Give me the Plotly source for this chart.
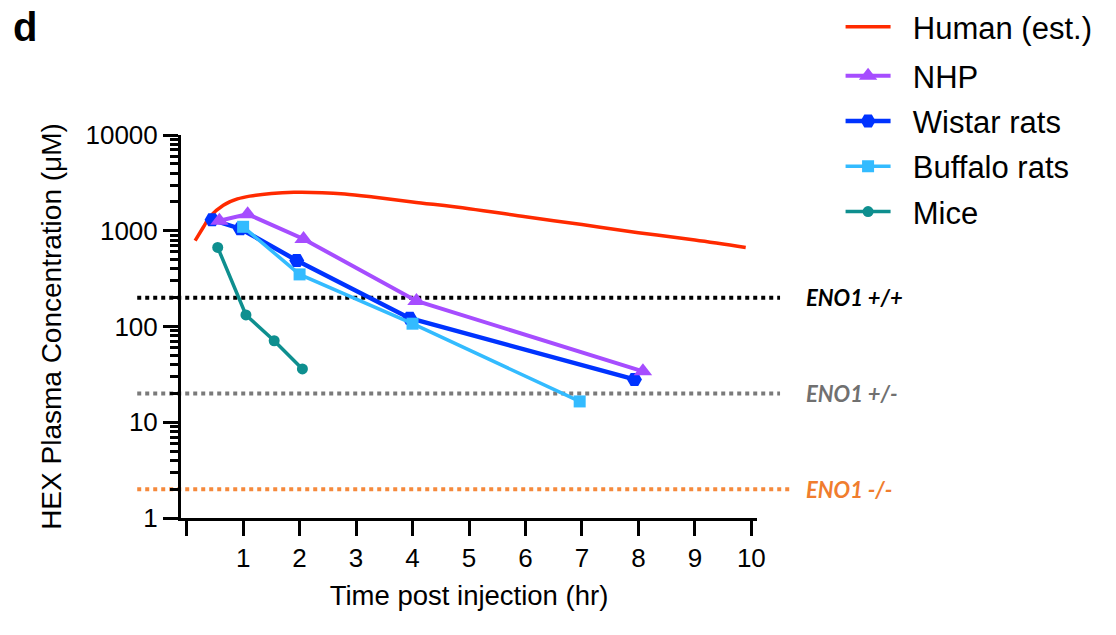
import plotly.graph_objects as go
import numpy as np

# ---- data ----
human_t = [0.15, 0.3, 0.41, 0.65, 0.9, 1.12, 1.5, 1.9, 2.4, 2.8, 3.3, 4.0, 5.0, 6.0, 7.0, 8.0, 9.0, 9.9]
human_c = [790, 1100, 1400, 1850, 2150, 2300, 2450, 2520, 2500, 2420, 2250, 2000, 1700, 1400, 1160, 955, 800, 670]

nhp_t = [0.58, 1.08, 2.07, 4.07, 8.08]
nhp_c = [1270, 1490, 820, 185, 34]

wistar_t = [0.45, 0.95, 1.95, 3.95, 7.93]
wistar_c = [1300, 1050, 490, 122, 28]

buffalo_t = [1.0, 2.0, 4.0, 6.96]
buffalo_c = [1100, 350, 107, 16.5]

mice_t = [0.55, 1.05, 1.55, 2.05]
mice_c = [670, 132, 71, 36]

series_names = ["Human (est.)", "NHP", "Wistar rats", "Buffalo rats", "Mice"]

threshold_vals = [200, 20, 2]
threshold_labels = ["<b><i>ENO1 +/+</i></b>", "<b><i>ENO1 +/-</i></b>", "<b><i>ENO1 -/-</i></b>"]
threshold_colors = ["#000000", "#707070", "#f07d2e"]
line_colors = ["#000000", "#7a7a7a", "#f5893c"]

x_ticks = list(range(0, 11))
x_ticktext = [""] + [str(v) for v in range(1, 11)]

FONT = "Liberation Sans, Arial, sans-serif"
PAD = "\u00a0\u00a0"

fig = go.Figure()

fig.add_trace(go.Scatter(x=human_t, y=human_c, name=PAD + series_names[0], mode="lines",
                         line=dict(color="#ff2a00", width=3.5, shape="spline"),
                         legend="legend", legendgroup="h"))
fig.add_trace(go.Scatter(x=wistar_t, y=wistar_c, name=PAD + series_names[2], mode="lines+markers",
                         line=dict(color="#0033ff", width=4.5),
                         marker=dict(symbol="hexagon2", size=15, color="#0033ff"),
                         legend="legend2", legendrank=3, legendgroup="w"))
fig.add_trace(go.Scatter(x=buffalo_t, y=buffalo_c, name=PAD + series_names[3], mode="lines+markers",
                         line=dict(color="#33bbff", width=3.5),
                         marker=dict(symbol="square", size=12, color="#33bbff"),
                         legend="legend2", legendrank=4, legendgroup="b"))
fig.add_trace(go.Scatter(x=nhp_t, y=nhp_c, name=PAD + series_names[1], mode="lines+markers",
                         line=dict(color="#a64dff", width=4),
                         marker=dict(symbol="triangle-up", size=16, color="#a64dff"),
                         legend="legend2", legendrank=2, legendgroup="n"))
fig.add_trace(go.Scatter(x=mice_t, y=mice_c, name=PAD + series_names[4], mode="lines+markers",
                         line=dict(color="#0e8f8f", width=3.5),
                         marker=dict(symbol="circle", size=11, color="#0e8f8f"),
                         legend="legend2", legendrank=5, legendgroup="m"))

x_ends = [1.040, 1.040, 1.057]
for val, lab, tc, lc, xe in zip(threshold_vals, threshold_labels, threshold_colors, line_colors, x_ends):
    fig.add_shape(type="line", xref="paper", yref="y", x0=-0.076, x1=xe, y0=val, y1=val,
                  line=dict(color=lc, width=4, dash="dot"), layer="below")
    fig.add_annotation(xref="paper", yref="y", x=1.082, y=np.log10(val), text=lab,
                       showarrow=False, xanchor="left", yanchor="middle",
                       font=dict(family="Lato, Open Sans, sans-serif", size=22, color=tc))

fig.add_annotation(xref="paper", yref="paper", x=-0.296, y=1.345, text="<b>d</b>",
                   showarrow=False, xanchor="left", yanchor="top",
                   font=dict(family=FONT, size=40, color="black"))

legend_common = dict(xref="container", yref="container", x=0.7532,
                     xanchor="left", yanchor="top",
                     font=dict(family=FONT, size=31, color="black"),
                     itemwidth=45, tracegroupgap=2, bgcolor="rgba(0,0,0,0)")

fig.update_layout(
    width=1116, height=635,
    margin=dict(l=181, r=359, t=135, b=117),
    paper_bgcolor="white", plot_bgcolor="white",
    font=dict(family=FONT, color="black"),
    showlegend=True,
    legend=dict(y=1.012, **legend_common),
    legend2=dict(y=0.9228, **legend_common),
    xaxis=dict(range=[-0.1, 10.1], showline=True, linewidth=3, linecolor="black",
               ticks="outside", ticklen=15, tickwidth=3, tickcolor="black",
               tickvals=x_ticks, ticktext=x_ticktext, tickfont=dict(size=26),
               showgrid=False, zeroline=False,
               title=dict(text="Time post injection (hr)", font=dict(size=27.5), standoff=14)),
    yaxis=dict(type="log", range=[0, 4], showline=True, linewidth=3, linecolor="black",
               ticks="outside", ticklen=15, tickwidth=3, tickcolor="black",
               dtick=1, tickformat="d", tickfont=dict(size=26),
               minor=dict(ticks="outside", ticklen=8, tickwidth=3, tickcolor="black",
                          dtick="D1", showgrid=False),
               showgrid=False, zeroline=False,
               title=dict(text="HEX Plasma Concentration (μM)", font=dict(size=28), standoff=16)),
)

fig.write_html("out.html")
